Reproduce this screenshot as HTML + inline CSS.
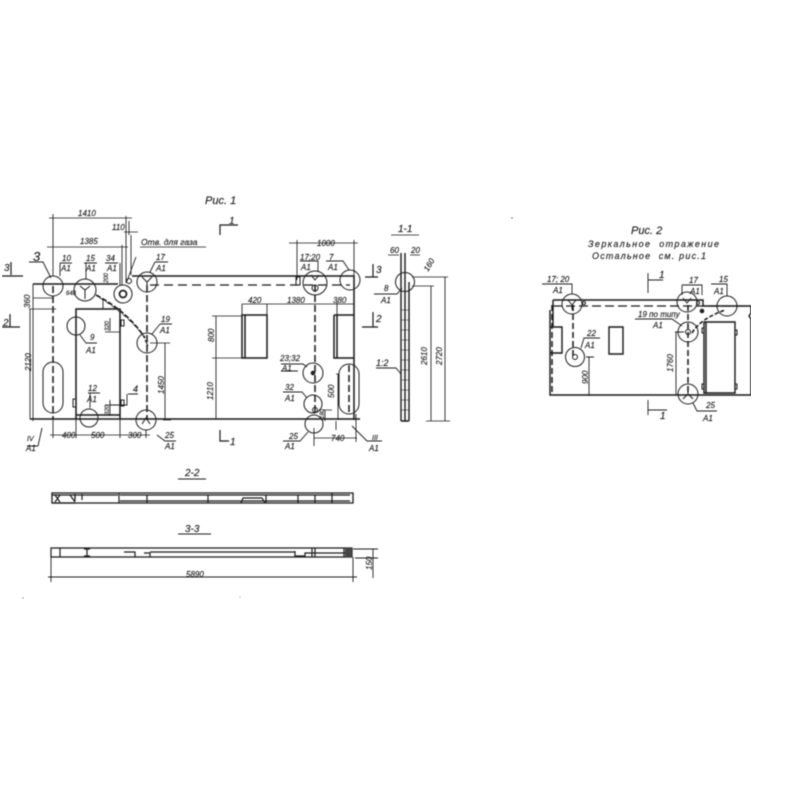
<!DOCTYPE html>
<html><head><meta charset="utf-8"><style>
html,body{margin:0;padding:0;background:#fff}
svg{display:block}
text{font-family:"Liberation Sans",sans-serif;font-style:italic;fill:#222;stroke:#222;stroke-width:.15;font-size:8px}
.b{font-size:10px}.c{font-size:11px}
</style></head><body>
<svg width="800" height="800" viewBox="0 0 800 800" xmlns="http://www.w3.org/2000/svg">
<defs><filter id="f" x="0" y="0" width="100%" height="100%"><feGaussianBlur stdDeviation="0.4"/></filter></defs>
<g filter="url(#f)" fill="none" stroke="#1c1c1c" stroke-width="1">
<!-- Fig 1 main outline -->
<g stroke-width="1.5">
<path d="M132 276H354V420M33 284H118M30 419H360"/>
<path d="M76 309H120V415H76ZM76 309V419M120 309V419"/>
<path d="M242 358V315H267V358ZM245 315V358M334 315H354M334 315V358H354M337 315V358"/>
</g>
<path d="M150 285H350" stroke-dasharray="9 5" stroke-width="1.3"/>
<path d="M53 286V419M147 285V420M315 285V412M349 365V412" stroke-dasharray="7 3" stroke-width="1.5"/>
<path d="M96 295Q128 312 145 338" stroke-dasharray="5 2" stroke-width="1.7"/>
<path d="M100 298Q130 316 148 342" stroke-dasharray="4 3" stroke-width="0.8"/>
<!-- ovals -->
<rect x="43" y="362" width="20" height="51" rx="10"/><rect x="339" y="364" width="20" height="50" rx="10"/>
<!-- circles -->
<circle cx="53" cy="286" r="10"/><circle cx="85" cy="290" r="11"/><circle cx="123" cy="294" r="9"/><circle cx="147" cy="282" r="10"/>
<circle cx="315" cy="283" r="12"/><circle cx="350" cy="280" r="10"/><circle cx="313" cy="373" r="10"/><circle cx="313" cy="404" r="9"/><circle cx="314" cy="424" r="9"/>
<circle cx="147" cy="343" r="10"/><circle cx="146" cy="420" r="10"/><circle cx="76" cy="326" r="9"/><circle cx="89" cy="418" r="9"/><circle cx="405" cy="282" r="9.5"/>
<circle cx="123" cy="294" r="3.5" stroke-width="1.7"/><circle cx="129" cy="281" r="2.5"/><circle cx="313" cy="373" r="1.8" fill="#222"/><circle cx="315" cy="288" r="3"/><circle cx="315" cy="410" r="2.5"/>
<path d="M80 286l5 4 5-4M85 290v9M142 277l5 5 5-5M147 282v7M311 275l4 5 4-5M142 424l4-6 4 6M145 340l3 6"/>
<!-- small details -->
<path d="M73 399h3v8h-3zM121 320h3v6h-3zM121 400h3v6h-3zM296 277h4v8h-4z"/>
<!-- leaders for fractions -->
<g stroke-width="0.9">
<path d="M29 262H43L51 278M60 263V276M60 263H72M84 263H97M86 263V279M105 263H118M120 263V285M155 262H168M155 262L150 272M160 324H172M152 334L160 324M80 335L86 343H97M88 393H100M90 393V408M128 394H138M127 394V405H110M42 428L38 446M27 446H38M157 435L165 441H176M165 441"/>
<path d="M300 261H318V272M326 261H343L349 270M281 364H303L307 367M281 371H298M283 392H302L307 398M283 441H300L308 432M352 426L367 441H382M374 294H397L402 288"/>
<path d="M376 368H396L401 374"/>
</g>
<!-- Dim fig 1 -->
<g stroke-width="0.85">
<path d="M49 218H132M53 214V276M126 216V283M47 247H128M122 245V285M129 221V235M124 232H138M131 235V275M136 257L127 281M140 247H206M33 284V421M33 298H53M29 309H56M30 309V419M53 419V438M76 419V438M120 419V438M146 430V438M50 435H150"/>
<path d="M103 300V309M105 332H120M110 318V331M110 400V416M105 405H120"/>
<path d="M289 243H358M297 240V280M354 240V276M242 304V315M267 304V315M242 304H354M337 302V315M216 316V419M212 316H242M212 358H242M162 343H170M165 343V420M165 343H150M163 420H171"/>
<path d="M336 374H338V420M336 421V430M314 438H357M314 428V446M356 414V442M325 410V421M323 410H332"/>
<path d="M412 277H448M412 286H434M431 286V421M445 277V421M426 421H450M391 235H419M388 255H399M410 255H420"/>
</g>
<!-- section 1-1 -->
<path d="M401 253V421M405 253V421M409 282V421M401 421H409" stroke-width="1.4"/>
<path d="M401 310h8M401 320h8M401 330h8M401 340h8M401 350h8M401 360h8M401 370h8M401 380h8M401 390h8M401 400h8M401 410h8" stroke-width="0.6"/>
<!-- cut marks -->
<g stroke-width="1.2">
<path d="M220 235V225H238M220 430V441H229M2 276H23M11 262V275M2 327H20M10 314V327M365 277H378M373 264V277M362 327H378M373 312V327"/>
</g>
<!-- Fig 2 -->
<g stroke-width="1.4">
<path d="M553 300H703V306H751V313L749 316L751 319V395H550V310M553 300V327M550 327H562V353H550M704 322H735V393H704ZM706 322V393M609 327H623V354H609Z"/>
</g>
<path d="M553 306H745" stroke-dasharray="9 4" stroke-width="1.3"/>
<path d="M573 305V357M688 305V394M552 305V395" stroke-dasharray="6 3" stroke-width="1.5"/>
<path d="M692 333Q700 319 725 310" stroke-dasharray="4 2" stroke-width="1.6"/>
<circle cx="572" cy="304" r="10"/><circle cx="575" cy="357" r="9.5"/><circle cx="687" cy="302" r="10"/><circle cx="727" cy="306" r="10"/><circle cx="688" cy="332" r="10"/><circle cx="688" cy="394" r="10"/>
<circle cx="575" cy="357" r="2.5"/><circle cx="688" cy="332" r="2.5"/><circle cx="702" cy="311" r="1.8" fill="#222"/><circle cx="584" cy="303" r="1.5"/><circle cx="698" cy="303" r="1.5"/>
<path d="M568 300l4 5 4-5M572 305v5M683 298l4 5 4-5M683 399l5-5 5 5M688 394v-7M702 328h2v5h-2zM702 384h2v5h-2zM735 330h2v5h-2zM735 384h2v5h-2z"/>
<g stroke-width="0.9">
<path d="M542 284H572V294M682 285V295M682 285H702V295M711 284H727V296M648 273V293M648 280H663M648 400V415M648 410H667M693 403L697 411H717M635 319H672L682 326M581 348L584 338H600"/>
<path d="M675 332H684M676 332V395M589 357V396M586 357H594M675 395H684"/>
</g>
<!-- Section 2-2 -->
<path d="M52 493H353V503H52ZM52 495H118M120 495H350M120 501H350M75 501V494" stroke-width="1.3"/>
<path d="M52 503H75M119 493V503M147 495V503M208 495V503M266 495V503M298 495V503M315 495V503M332 493V503M241 503L243 498H262L265 503M82 494V500M55 495L60 502M55 502L60 495M70 495L75 502" stroke-width="1.2"/>
<path d="M178 479H206M178 534H211" stroke-width="1.1"/>
<!-- Section 3-3 -->
<path d="M51 548H352V557H51ZM51 548H60V557M84 549H90M84 556H90M87 549V556M144 553H150V557M124 552H135V557M150 552H295V557M295 551V556H305V553H345M312 548V557M315 548V557M344 548V557M348 548V557" stroke-width="1.2"/>
<path d="M51 557V582M353 557V582M48 577H357M353 549H378M355 558H378M373 549V578" stroke-width="0.9"/>
<path d="M345 548h7v9h-7z" fill="#444" stroke="none"/>
<circle cx="23" cy="598" r="0.6" fill="#555" stroke="none"/><circle cx="512" cy="218" r="0.7" fill="#555" stroke="none"/><circle cx="240" cy="597" r="0.5" fill="#777" stroke="none"/>
</g>
<g filter="url(#f)">
<text class="c" x="205" y="204">Рис. 1</text>
<text x="229" y="224" class="b">1</text>
<text class="c" x="33" y="261" style="font-size:13px">3</text>
<text x="78" y="216">1410</text><text x="80" y="244">1385</text><text x="112" y="230">110</text>
<text x="141" y="245" style="font-size:8.5px">Отв. для газа</text>
<text x="62" y="261">10</text><text x="61" y="271">А1</text>
<text x="86" y="261">15</text><text x="86" y="271">А1</text>
<text x="106" y="261">34</text><text x="107" y="271">А1</text>
<text x="156" y="260">17</text><text x="156" y="271">А1</text>
<text x="66" y="295" style="font-size:6px">648</text>
<text x="4" y="271" class="b">3</text><text x="3" y="326" class="b">2</text>
<text x="90" y="340">9</text><text x="86" y="353">А1</text>
<text x="88" y="391">12</text><text x="87" y="402">А1</text>
<text x="133" y="392" style="font-size:9px">4</text>
<text x="161" y="322">19</text><text x="160" y="333">А1</text>
<text x="165" y="438">25</text><text x="165" y="449">А1</text>
<text x="27" y="441" style="font-size:7px">IV</text><text x="26" y="451">А1</text>
<text x="62" y="438">400</text><text x="91" y="438">500</text><text x="128" y="438">300</text>
<text transform="translate(31 371) rotate(-90)">2120</text>
<text transform="translate(30 308) rotate(-90)">360</text>
<text transform="translate(108 283) rotate(-90)" style="font-size:6px">200</text>
<text transform="translate(109 331) rotate(-90)" style="font-size:6px">320</text>
<text transform="translate(109 415) rotate(-90)" style="font-size:6px">320</text>
<text transform="translate(164 394) rotate(-90)">1450</text>
<text transform="translate(214 342) rotate(-90)">800</text>
<text transform="translate(213 400) rotate(-90)">1210</text>
<text x="248" y="303">420</text><text x="287" y="303">1380</text><text x="333" y="303">380</text>
<text x="317" y="246">1000</text>
<text x="300" y="260">17;20</text><text x="301" y="270">А1</text>
<text x="329" y="260">7</text><text x="328" y="270">А1</text>
<text x="376" y="273" class="b">3</text><text x="376" y="322" class="b">2</text>
<text x="280" y="361">23;32</text><text x="282" y="371">А1</text>
<text x="285" y="390">32</text><text x="285" y="401">А1</text>
<text x="289" y="439">25</text><text x="285" y="449">А1</text>
<text x="331" y="441">740</text>
<text transform="translate(334 398) rotate(-90)">500</text>
<text transform="translate(324 419) rotate(-90)" style="font-size:6px">180</text>
<text x="230" y="445" class="b">1</text>
<text x="372" y="440" style="font-size:7px">III</text><text x="369" y="451">А1</text>
<text x="398" y="232" class="b">1-1</text>
<text x="390" y="253">60</text><text x="411" y="253">20</text>
<text x="384" y="291">8</text><text x="381" y="303">А1</text>
<text x="376" y="366" style="font-size:9px">1:2</text>
<text transform="translate(428 272) rotate(-60)">160</text>
<text transform="translate(427 365) rotate(-90)">2610</text>
<text transform="translate(442 365) rotate(-90)">2720</text>
<text x="185" y="476" class="b">2-2</text>
<text x="185" y="532" class="b">3-3</text>
<text x="186" y="577">5890</text>
<text transform="translate(372 570) rotate(-90)">150</text>
<text class="c" x="631" y="234">Рис. 2</text>
<text x="588" y="247" textLength="131" lengthAdjust="spacing" style="font-size:9px">Зеркальное&#160;&#160;отражение</text>
<text x="592" y="259" textLength="114" lengthAdjust="spacing" style="font-size:9px">Остальное&#160;&#160;см.&#160;рис.1</text>
<text x="659" y="278" class="b">1</text><text x="660" y="419" class="b">1</text>
<text x="547" y="282">17; 20</text><text x="553" y="293">А1</text>
<text x="689" y="283">17</text><text x="690" y="294">А1</text>
<text x="719" y="282">15</text><text x="714" y="294">А1</text>
<text x="587" y="336">22</text><text x="585" y="348">А1</text>
<text x="638" y="317">19 по типу</text><text x="653" y="328">А1</text>
<text x="706" y="408">25</text><text x="703" y="421">А1</text>
<text transform="translate(588 384) rotate(-90)">900</text>
<text transform="translate(673 372) rotate(-90)">1760</text>
</g>
</svg>
</body></html>
